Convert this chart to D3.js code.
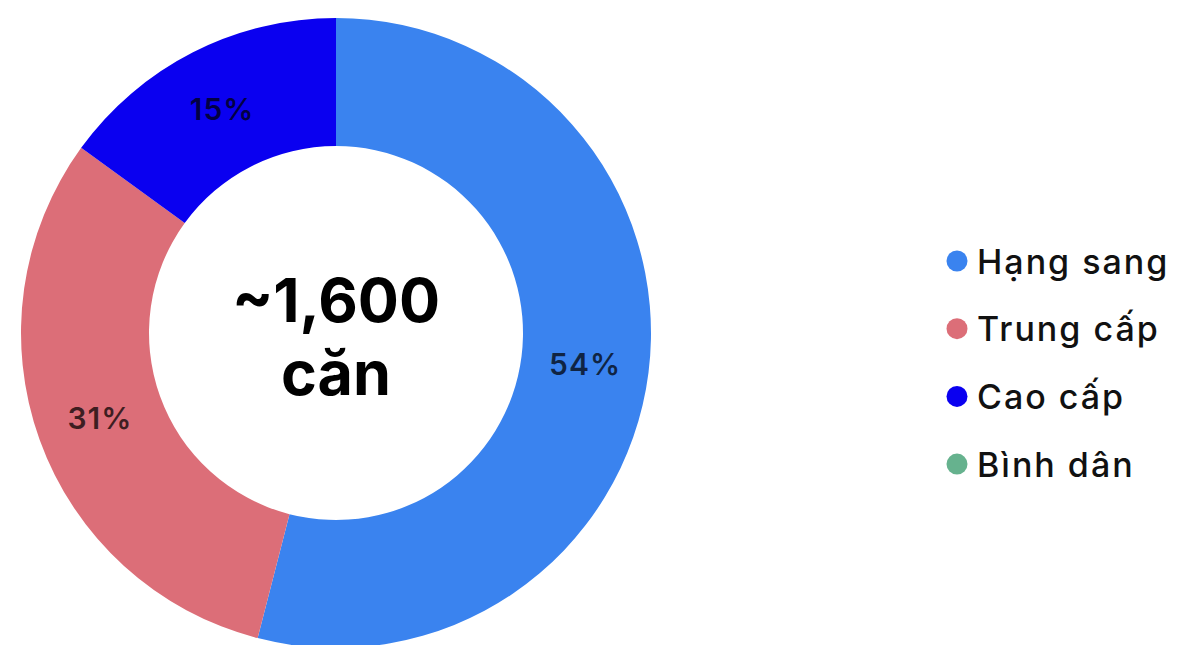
<!DOCTYPE html>
<html lang="vi">
<head>
<meta charset="utf-8">
<script src="https://cdn.jsdelivr.net/npm/d3@7"></script>
<style>
  html, body { margin: 0; padding: 0; background: #ffffff; }
  svg { display: block; }
</style>
</head>
<body>
<svg id="chart" width="1184" height="645"></svg>
<script>
// Segments of the apartment supply, in percent
const categories = ["Hạng sang", "Trung cấp", "Cao cấp", "Bình dân"];
const shares = [54, 31, 15, 0];
const colors = ["#3a83ef", "#dc6e78", "#0a00f0", "#66b28e"];
const centerLines = ["~1,600", "căn"];

const svg = d3.select("#chart");

const cx = 336, cy = 333;
const outerR = 315, innerR = 187;

const data = categories.map((c, i) => ({ name: c, value: shares[i], color: colors[i] }));

const pie = d3.pie()
  .sort(null)
  .value(d => d.value)
  .startAngle(0)
  .endAngle(2 * Math.PI);

const arc = d3.arc().innerRadius(innerR).outerRadius(outerR);
const midR = (innerR + outerR) / 2;
const labelArc = d3.arc().innerRadius(midR).outerRadius(midR);

const g = svg.append("g").attr("transform", `translate(${cx},${cy})`);

const arcs = pie(data);

g.selectAll("path.slice")
  .data(arcs)
  .join("path")
  .attr("class", "slice")
  .attr("d", arc)
  .attr("fill", d => d.data.color);

// Percent labels on the ring
g.selectAll("text.pct")
  .data(arcs.filter(d => d.data.value > 0))
  .join("text")
  .attr("class", "pct")
  .attr("transform", d => `translate(${labelArc.centroid(d)})`)
  .attr("text-anchor", "middle")
  .attr("dominant-baseline", "central")
  .attr("font-family", "Inter, 'Noto Sans', sans-serif")
  .attr("font-weight", 600)
  .attr("font-size", 30)
  .attr("letter-spacing", 1)
  .attr("fill", "#000")
  .attr("fill-opacity", 0.72)
  .text(d => d.data.value + "%");

// Total in the hole
g.append("text")
  .attr("text-anchor", "middle")
  .attr("font-family", "Inter, Roboto, sans-serif")
  .attr("font-weight", 700)
  .attr("font-size", 61)
  .attr("fill", "#000")
  .selectAll("tspan")
  .data(centerLines)
  .join("tspan")
  .attr("x", 0)
  .attr("y", (d, i) => -11 + i * 73)
  .text(d => d);

// Legend
const legend = svg.append("g").attr("transform", "translate(957,261)");
const rowStep = 67.7;
const item = legend.selectAll("g.item")
  .data(data)
  .join("g")
  .attr("class", "item")
  .attr("transform", (d, i) => `translate(0,${i * rowStep})`);

item.append("circle")
  .attr("r", 10.5)
  .attr("fill", d => d.color);

item.append("text")
  .attr("x", 20)
  .attr("dominant-baseline", "central")
  .attr("font-family", "Inter, 'Open Sans', sans-serif")
  .attr("font-weight", 500)
  .attr("font-size", 34)
  .attr("letter-spacing", 2)
  .attr("fill", "#111")
  .text(d => d.name);
</script>
</body>
</html>
